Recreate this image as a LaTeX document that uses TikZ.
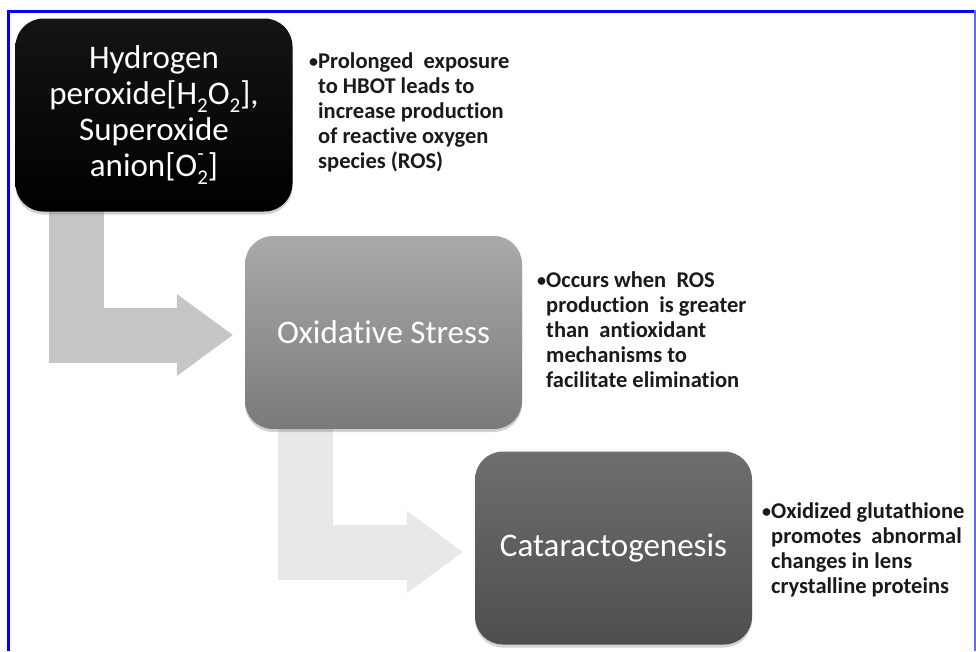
\documentclass[tikz,border=0pt]{standalone}
\usepackage{fontspec}
\setmainfont{Carlito}[Ligatures=NoCommon]
\usetikzlibrary{arrows.meta,shadows}
\definecolor{frameblue}{HTML}{0000FF}
\definecolor{frameblueR}{HTML}{6666FF}
\definecolor{arrowA}{HTML}{C6C6C6}
\definecolor{arrowB}{HTML}{E8E8E8}
\definecolor{notetext}{HTML}{1A1A1A}
\pgfdeclarelayer{back}
\pgfdeclarelayer{mid}
\pgfsetlayers{back,mid,main}
\newcommand{\smallbul}{\llap{\raisebox{0.5pt}{\fontsize{18}{18}\selectfont\textbullet}}}
\newcommand{\chemsub}[1]{\raisebox{-0.22em}{\fontsize{21}{21}\selectfont #1}}
\newcommand{\chemsubsup}[2]{\rlap{\raisebox{-0.22em}{\fontsize{21}{21}\selectfont #1}}\rlap{\raisebox{0.5em}{\fontsize{21}{21}\selectfont #2}}\phantom{\fontsize{21}{21}\selectfont #1}}
\begin{document}
\begin{tikzpicture}[x=1pt,y=-1pt,
  box/.style={rectangle, rounded corners=28pt, minimum width=277pt, minimum height=193pt,
    inner sep=0pt, align=center, text=white, font=\fontsize{33}{36}\selectfont,
    drop shadow={opacity=0.35, shadow xshift=0pt, shadow yshift=-3pt}},
  note/.style={anchor=north west, inner sep=0pt, align=left, text=notetext,
    font=\bfseries\fontsize{22.5}{25}\selectfont},
  flowarrow/.style={line width=55pt, line join=miter,
    -{Triangle[length=56pt,width=82pt,line width=0pt]}, shorten >=12pt}
]
\begin{pgfonlayer}{back}
  \fill[white] (0,0) rectangle (976,651);
\end{pgfonlayer}
\useasboundingbox (0,0) rectangle (976,651);

% boxes
\node[box, top color=black!92, bottom color=black] (b1) at (154,115)
  {Hydrogen\\peroxide[H\chemsub{2}O\chemsub{2}],\\Superoxide\\anion[O\chemsubsup{2}{-}]};
\node[box, top color={rgb,255:red,170;green,170;blue,170}, bottom color={rgb,255:red,122;green,122;blue,122}] (b2) at (383.5,332.5)
  {Oxidative Stress};
\node[box, top color={rgb,255:red,110;green,110;blue,110}, bottom color={rgb,255:red,78;green,78;blue,78}] (b3) at (613.5,548)
  {Cataractogenesis};

% arrows
\begin{pgfonlayer}{mid}
  \draw[flowarrow, draw=arrowA] ([xshift=61.5pt, yshift=10pt]b1.south west) |- ([yshift=-2.5pt]b2.west);
  \draw[flowarrow, draw=arrowB] ([xshift=60.5pt, yshift=10pt]b2.south west) |- ([yshift=-4pt]b3.west);
\end{pgfonlayer}

% notes
\node[note] (n1) at (318,50)
  {\smallbul\rule{0pt}{18pt}Prolonged\ \ exposure\\to HBOT leads to\\increase production\\of reactive oxygen\\species (ROS)};
\node[note] (n2) at (546,269)
  {\smallbul\rule{0pt}{18pt}Occurs when\ \ ROS\\production\ \ is greater\\than\ \ antioxidant\\mechanisms to\\facilitate elimination};
\node[note] (n3) at (771,500)
  {\smallbul\rule{0pt}{18pt}Oxidized glutathione\\promotes\ \ abnormal\\changes in lens\\crystalline proteins};

% frame
\draw[frameblue, line width=3pt] (7,11) -- (975.5,11);
\draw[frameblue, line width=3pt] (8.5,9.5) -- (8.5,651);
\draw[frameblueR, line width=1.2pt] (975,10) -- (975,651);
\end{tikzpicture}
\end{document}
